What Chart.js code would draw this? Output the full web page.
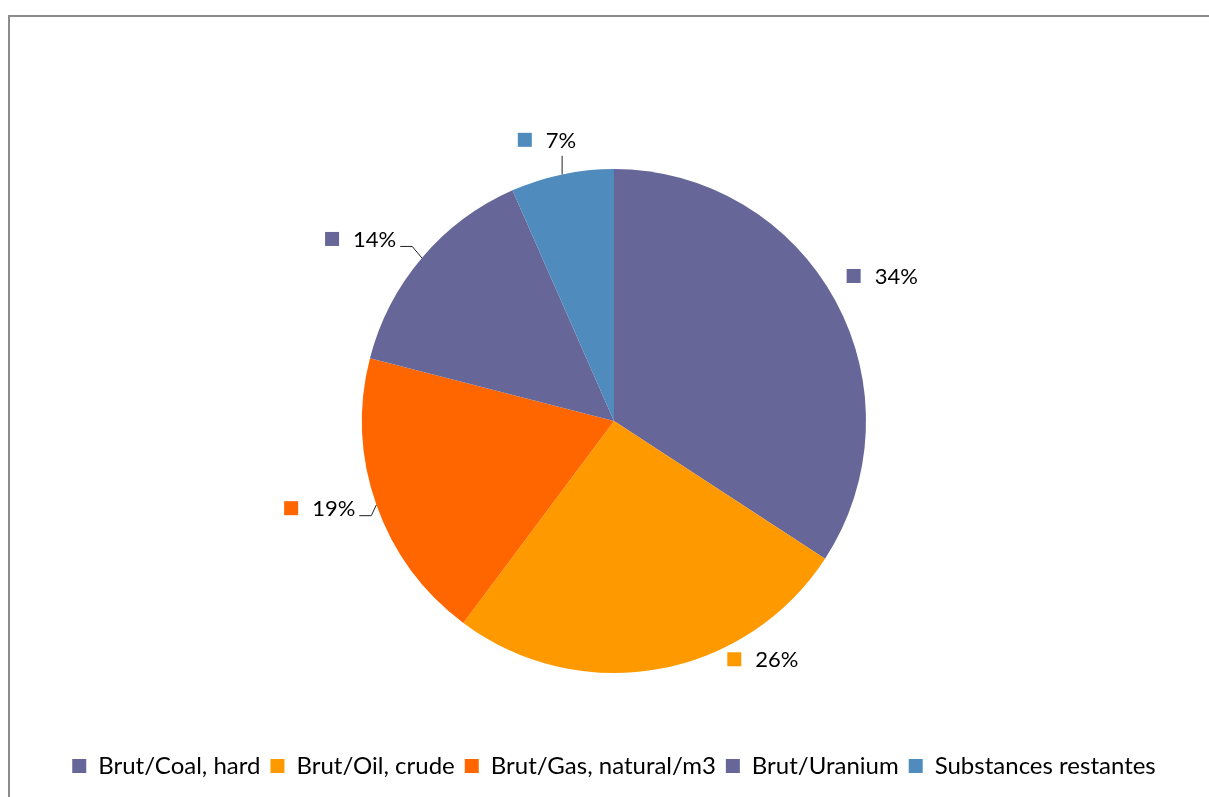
<!DOCTYPE html>
<html>
<head>
<meta charset="utf-8">
<script src="https://cdn.jsdelivr.net/npm/chart.js@4"></script>
<style>
  html, body { margin: 0; padding: 0; background: #fff; overflow: hidden; }
  #frame { position: absolute; left: 8px; top: 15px; width: 1300px; height: 900px;
           border-left: 2px solid #8c8c8c; border-top: 2px solid #8c8c8c; }
  #wrap { position: absolute; left: 0; top: 0; width: 1209px; height: 797px; }
</style>
</head>
<body>
<div id="frame"></div>
<div id="wrap"><canvas id="pie"></canvas></div>
<script>
// données (parts en %)
const categories = ['Brut/Coal, hard', 'Brut/Oil, crude', 'Brut/Gas, natural/m3', 'Brut/Uranium', 'Substances restantes'];
const parts = [34.2, 26.0, 18.8, 14.4, 6.6];
const couleurs = ['#666699', '#ff9900', '#ff6600', '#666699', '#4f8bbd'];

// placement des étiquettes (angle en degrés depuis midi, distance en rayons)
const placement = [
    { angle: 61.6, dist: 1.21, leader: null },
    { angle: 148, dist: 1.115, leader: null },
    { angle: 253.5, dist: 1.218, leader: 'h' },
    { angle: 305.7, dist: 1.238, leader: 'h' },
    { angle: 346.6, dist: 1.147, leader: 'v' }
];

const police = '"Lato", "Noto Sans", sans-serif';

const etiquettes = {
    id: 'etiquettes',
    afterDatasetsDraw(chart) {
        const ctx = chart.ctx;
        const meta = chart.getDatasetMeta(0);
        const total = parts.reduce((a, b) => a + b, 0);
        ctx.save();
        ctx.font = '22px ' + police;
        ctx.textBaseline = 'middle';
        meta.data.forEach((arc, i) => {
            const cx = arc.x, cy = arc.y, r = arc.outerRadius;
            const p = placement[i];
            const a = p.angle * Math.PI / 180;
            const lx = cx + Math.sin(a) * r * p.dist;
            const ly = cy - Math.cos(a) * r * p.dist;
            const txt = Math.round(parts[i] / total * 100) + '%';
            const tw = ctx.measureText(txt).width;
            const w = 14 + 14 + tw;
            const x0 = lx - w / 2;
            ctx.fillStyle = couleurs[i];
            ctx.fillRect(x0, ly - 7, 14, 14);
            ctx.fillStyle = '#000';
            ctx.textAlign = 'left';
            ctx.fillText(txt, x0 + 28, ly + 1);

            // ligne de rappel vers le bord de la part
            if (p.leader) {
                const mid = (arc.startAngle + arc.endAngle) / 2;
                const ex = cx + Math.cos(mid) * r;
                const ey = cy + Math.sin(mid) * r;
                ctx.strokeStyle = '#222';
                ctx.lineWidth = 1;
                ctx.beginPath();
                if (p.leader === 'v') {
                    ctx.moveTo(ex, ly + 16);
                    ctx.lineTo(ex, ey);
                } else {
                    const xr = x0 + w + 4;
                    ctx.moveTo(xr, ly + 7.5);
                    ctx.lineTo(xr + 12, ly + 7.5);
                    ctx.lineTo(ex, ey);
                }
                ctx.stroke();
            }
        });
        ctx.restore();
    }
};

const ctx = document.getElementById('pie').getContext('2d');
new Chart(ctx, {
    type: 'pie',
    data: {
        labels: categories,
        datasets: [{
            data: parts,
            backgroundColor: couleurs,
            borderWidth: 0,
            radius: 252
        }]
    },
    options: {
        responsive: true,
        maintainAspectRatio: false,
        animation: false,
        layout: { padding: { top: 98, bottom: 9, left: 19, right: 0 } },
        plugins: {
            legend: {
                position: 'bottom',
                labels: {
                    boxWidth: 14,
                    boxHeight: 14,
                    padding: 10,
                    color: '#000',
                    font: { family: police, size: 24 }
                }
            },
            tooltip: { enabled: false }
        }
    },
    plugins: [etiquettes]
});
</script>
</body>
</html>
